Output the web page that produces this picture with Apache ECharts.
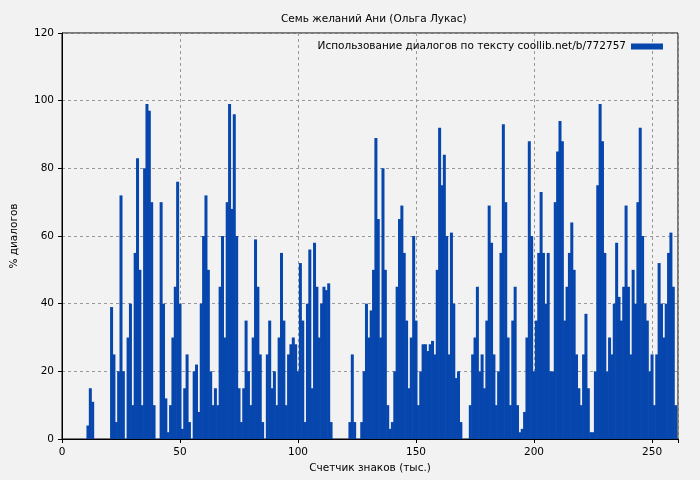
<!DOCTYPE html>
<html>
<head>
<meta charset="utf-8">
<script src="https://cdn.jsdelivr.net/npm/echarts@6/dist/echarts.min.js"></script>
<style>html,body{margin:0;background:#f2f2f2}#chart{width:700px;height:480px}</style>
</head>
<body>
<div id="chart"></div>
<script>
// % диалогов, по одному значению на тысячу знаков (0..260)
const dialogShare = [
    0,0,0,0,0,0,0,0,0,0, 0,4,15,11,0,0,0,0,0,0,          // 0-19
    0,39,25,5,20,72,20,0,30,40, 10,55,83,50,10,80,99,97,70,10, // 20-39
    0,0,70,40,12,2,10,30,45,76, 40,3,15,25,5,0,20,22,8,40,     // 40-59
    60,72,50,20,10,15,10,45,60,30, 70,99,68,96,60,15,5,15,35,20, // 60-79
    10,30,59,45,25,5,0,25,35,15, 20,10,30,55,35,10,25,28,30,28,  // 80-99
    20,52,35,5,40,56,15,58,45,30, 40,45,44,46,5,0,0,0,0,0,       // 100-119
    0,0,5,25,5,0,0,5,20,40, 30,38,50,89,65,30,80,50,10,3,        // 120-139
    5,20,45,65,69,55,35,15,30,60, 35,10,20,28,28,26,28,29,25,50, // 140-159
    92,75,84,60,25,61,40,18,20,5, 0,0,0,10,25,30,45,20,25,15,    // 160-179
    35,69,58,25,10,20,55,93,70,30, 10,35,45,10,2,3,8,30,88,60,   // 180-199
    20,35,55,73,55,40,55,20,20,70, 85,94,88,35,45,55,64,50,25,15, // 200-219
    10,25,37,15,2,2,20,75,99,88, 55,20,30,25,40,58,42,35,45,69,  // 220-239
    45,25,50,40,70,92,60,40,35,20, 25,10,25,52,40,30,40,55,61,45, // 240-259
    10                                                            // 260
];
const xTicks = [0, 50, 100, 150, 200, 250];

const chart = echarts.init(document.getElementById('chart'));
const font = 'DejaVu Sans';

chart.setOption({
    backgroundColor: '#f2f2f2',
    animation: false,
    textStyle: {fontFamily: font},
    title: {
        text: 'Семь желаний Ани (Ольга Лукас)',
        left: 276,
        top: 9,
        textStyle: {fontSize: 10.5, fontWeight: 'normal', color: '#000', fontFamily: font}
    },
    legend: {
        right: 32,
        top: 36,
        align: 'right',
        itemWidth: 32,
        itemHeight: 6,
        itemGap: 8,
        textStyle: {fontSize: 10.5, color: '#000', fontFamily: font},
        data: [{name: 'Использование диалогов по тексту coollib.net/b/772757', icon: 'rect'}]
    },
    grid: {left: 62, right: 22, top: 33, bottom: 41, show: true, borderColor: '#000', borderWidth: 1, backgroundColor: 'transparent'},
    xAxis: {
        type: 'value',
        min: 0,
        max: 261,
        interval: 50,
        name: 'Счетчик знаков (тыс.)',
        nameLocation: 'middle',
        nameGap: 23,
        nameTextStyle: {fontSize: 10.5, color: '#000'},
        axisLine: {lineStyle: {color: '#000'}},
        axisTick: {lineStyle: {color: '#000'}, length: 4},
        axisLabel: {
            fontSize: 10.5, color: '#000',
            formatter: v => xTicks.includes(v) ? String(v) : ''
        },
        splitLine: {show: true, lineStyle: {color: '#999', type: [3, 3]}}
    },
    yAxis: {
        type: 'value',
        min: 0,
        max: 120,
        interval: 20,
        name: '% диалогов',
        nameLocation: 'middle',
        nameGap: 42,
        nameTextStyle: {fontSize: 10.5, color: '#000'},
        axisLine: {show: true, lineStyle: {color: '#000'}},
        axisTick: {show: true, lineStyle: {color: '#000'}, length: 4},
        axisLabel: {fontSize: 10.5, color: '#000'},
        splitLine: {show: true, lineStyle: {color: '#999', type: [3, 3]}}
    },
    series: [{
        name: 'Использование диалогов по тексту coollib.net/b/772757',
        type: 'bar',
        barWidth: 3,
        itemStyle: {color: '#0646ad'},
        data: dialogShare.map((v, i) => [i, v])
    }]
});
</script>
</body>
</html>
